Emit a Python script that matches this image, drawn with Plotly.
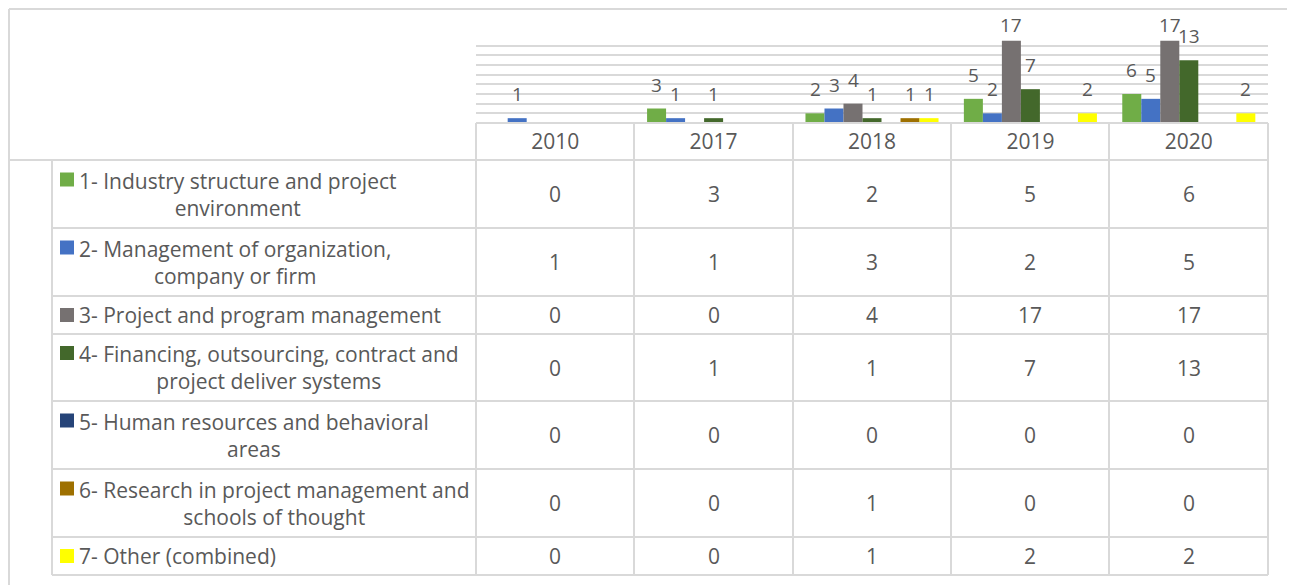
import plotly.graph_objects as go

W, H = 1295, 585
OFF = 8  # page body margin in the screenshot

years = ["2010", "2017", "2018", "2019", "2020"]
series_names = [
    "1- Industry structure and project<br>environment",
    "2- Management of organization,<br>company or firm",
    "3- Project and program management",
    "4- Financing, outsourcing, contract and<br>project deliver systems",
    "5- Human resources and behavioral<br>areas",
    "6- Research in project management and<br>schools of thought",
    "7- Other (combined)",
]
industry = [0, 3, 2, 5, 6]
management = [1, 1, 3, 2, 5]
program = [0, 0, 4, 17, 17]
financing = [0, 1, 1, 7, 13]
human = [0, 0, 0, 0, 0]
research = [0, 0, 1, 0, 0]
other = [0, 0, 1, 2, 2]
series_values = [industry, management, program, financing, human, research, other]
colors = ["#70ad47", "#4472c4", "#767171", "#43682b", "#264478", "#9e7000", "#ffff00"]

FONT = "Open Sans"
TXT = "#595959"
LINE = "#d9d9d9"


def px(x):
    return (x - OFF) / W


def py(y):
    return 1 - (y - OFF) / H


fig = go.Figure()
for name, vals, col in zip(series_names, series_values, colors):
    fig.add_trace(go.Bar(x=years, y=vals, name=name, marker=dict(color=col, line=dict(width=0)),
                         showlegend=False, hoverinfo="x+y"))

# data labels (only non-zero values, like the source)
n = len(series_values)
bar_px = 19
unit_px = 87 / 18
ann = []
for i, vals in enumerate(series_values):
    for j, v in enumerate(vals):
        if v == 0:
            continue
        ann.append(dict(x=j, y=v, xref="x", yref="y", text=str(v), showarrow=False,
                        xshift=(i - (n - 1) / 2) * bar_px, yanchor="middle",
                        yshift=min(24, (20.3 - v) * unit_px),
                        font=dict(family=FONT, size=19, color=TXT)))

# data table
row_edges = [160, 228, 296, 334, 401, 469, 537, 575]
shapes = []
for yy in [123] + row_edges:
    x0 = 476 if yy == 123 else (0 if yy == 160 else 52)
    shapes.append(dict(type="line", xref="paper", yref="paper", x0=px(x0), x1=px(1268),
                       y0=py(yy), y1=py(yy), line=dict(color=LINE, width=2)))
for xx in [476, 634, 793, 951, 1109, 1268]:
    shapes.append(dict(type="line", xref="paper", yref="paper", x0=px(xx), x1=px(xx),
                       y0=py(123), y1=py(575), line=dict(color=LINE, width=2)))
shapes.append(dict(type="line", xref="paper", yref="paper", x0=px(52), x1=px(52),
                   y0=py(160), y1=py(575), line=dict(color=LINE, width=2)))
# outer chart frame (as near the page edge as the figure allows)
shapes.append(dict(type="line", xref="paper", yref="paper", x0=px(9), x1=px(1310),
                   y0=py(9), y1=py(9), line=dict(color=LINE, width=2)))
shapes.append(dict(type="line", xref="paper", yref="paper", x0=px(9), x1=px(9),
                   y0=py(9), y1=py(600), line=dict(color=LINE, width=2)))

for r, (name, vals, col) in enumerate(zip(series_names, series_values, colors)):
    top, bot = row_edges[r], row_edges[r + 1]
    mid = (top + bot) / 2
    two_line = "<br>" in name
    key_y = mid - 14.5 if two_line else mid
    shapes.append(dict(type="rect", xref="paper", yref="paper", x0=px(60), x1=px(74),
                       y0=py(key_y + 7), y1=py(key_y - 7), fillcolor=col, line=dict(width=0)))
    ann.append(dict(x=px(77), y=py(mid), xref="paper", yref="paper", text=name, showarrow=False,
                    xanchor="left", yanchor="middle", align="center",
                    font=dict(family=FONT, size=21, color=TXT)))
    for j, v in enumerate(vals):
        ann.append(dict(x=j, y=py(mid), xref="x", yref="paper", text=str(v), showarrow=False,
                        yanchor="middle", font=dict(family=FONT, size=21, color=TXT)))

fig.update_layout(
    template="none",
    width=W, height=H,
    margin=dict(l=0, r=0, t=0, b=0, autoexpand=False),
    paper_bgcolor="white", plot_bgcolor="white",
    barmode="group", bargap=0.16, bargroupgap=0,
    font=dict(family=FONT, size=21, color=TXT),
    xaxis=dict(domain=[px(476), px(1268)], type="category", range=[-0.5, 4.5], autorange=False,
               showgrid=False, showline=False, zeroline=False, automargin=False,
               ticks="", tickfont=dict(family=FONT, size=21, color=TXT), ticklabelstandoff=4),
    yaxis=dict(domain=[py(123), py(36)], range=[0, 18], autorange=False, dtick=2, showgrid=True,
               gridcolor=LINE, gridwidth=2, showticklabels=False, zeroline=False, ticks="",
               automargin=False),
    annotations=ann,
    shapes=shapes,
)

fig.write_html("out.html")
